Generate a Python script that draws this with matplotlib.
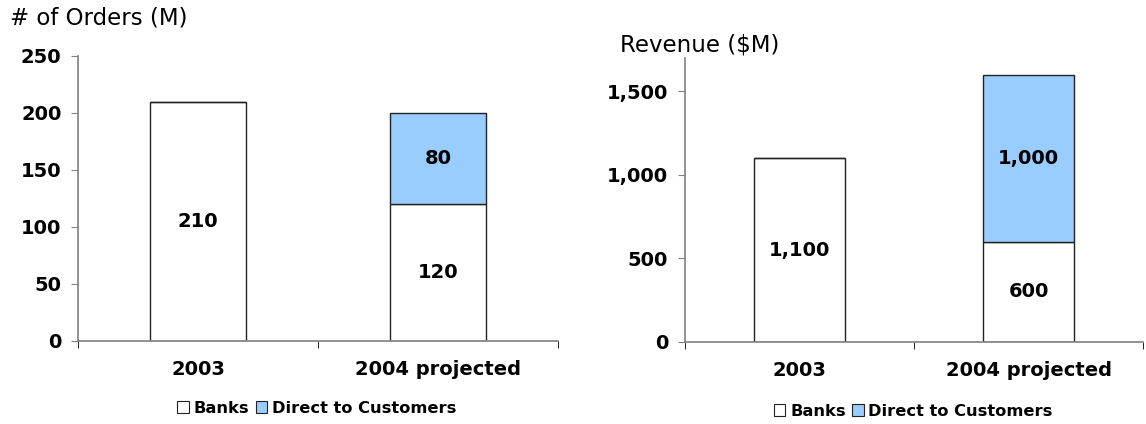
import matplotlib

matplotlib.use("Agg")
import matplotlib.pyplot as plt
from matplotlib.patches import Patch
from matplotlib.ticker import FuncFormatter

categories = ["2003", "2004 projected"]
series_names = ["Banks", "Direct to Customers"]
orders_banks = [210, 120]
orders_direct = [0, 80]
revenue_banks = [1100, 600]
revenue_direct = [0, 1000]

plt.rcParams["font.family"] = ["DejaVu Sans"]

BLUE = "#99CCFF"
EDGE = "#222222"
SPINE = "#808080"
FS = 14

fig = plt.figure(figsize=(11.46, 4.24), dpi=100)


def draw_panel(ax, banks, direct, ymax, yticks, title, title_xy, legend_xy):
    x = list(range(len(categories)))
    ax.bar(x, banks, width=0.4, color="white", edgecolor=EDGE, linewidth=1)
    ax.bar(x, direct, width=0.4, bottom=banks, color=BLUE, edgecolor=EDGE, linewidth=1)
    for i in x:
        ax.text(i, banks[i] / 2, f"{banks[i]:,}", ha="center", va="center",
                fontsize=FS, fontweight="bold")
        if direct[i]:
            ax.text(i, banks[i] + direct[i] / 2, f"{direct[i]:,}", ha="center",
                    va="center", fontsize=FS, fontweight="bold")
    ax.set_xlim(-0.5, len(categories) - 0.5)
    ax.set_ylim(0, ymax)
    ax.set_yticks(yticks)
    ax.yaxis.set_major_formatter(FuncFormatter(lambda v, p: f"{int(v):,}"))
    ax.set_xticks(x)
    ax.set_xticklabels(categories, fontsize=FS, fontweight="bold")
    ax.set_xticks([-0.5, 0.5, 1.5], minor=True)
    ax.tick_params(axis="x", which="major", length=0, pad=14)
    ax.tick_params(axis="x", which="minor", length=5, color="black", direction="out")
    ax.tick_params(axis="y", length=5, color=SPINE, direction="out", pad=7)
    for lbl in ax.get_yticklabels():
        lbl.set_fontsize(FS)
        lbl.set_fontweight("bold")
    for s in ["top", "right"]:
        ax.spines[s].set_visible(False)
    for s in ["left", "bottom"]:
        ax.spines[s].set_color(SPINE)
        ax.spines[s].set_linewidth(1.2)
    fig.text(title_xy[0], title_xy[1], title, fontsize=16.5, va="center", ha="left")
    handles = [Patch(facecolor="white", edgecolor=EDGE, linewidth=0.8),
               Patch(facecolor=BLUE, edgecolor=EDGE, linewidth=0.8)]
    fig.legend(handles, series_names, loc="center", bbox_to_anchor=legend_xy,
               ncol=2, frameon=False, handlelength=0.7, handleheight=0.7,
               handletextpad=0.3, columnspacing=0.4,
               prop={"size": 11.7, "weight": "bold"})


ax1 = fig.add_axes([0.0681, 0.1958, 0.4188, 0.6722])
draw_panel(ax1, orders_banks, orders_direct, 250, [0, 50, 100, 150, 200, 250],
           "# of Orders (M)", (0.009, 0.957), (0.2766, 0.037))

ax2 = fig.add_axes([0.5977, 0.1934, 0.3997, 0.6698])
draw_panel(ax2, revenue_banks, revenue_direct, 1700, [0, 500, 1000, 1500],
           "Revenue ($M)", (0.541, 0.894), (0.797, 0.03))

fig.savefig("out.png", dpi=100)
plt.close(fig)
